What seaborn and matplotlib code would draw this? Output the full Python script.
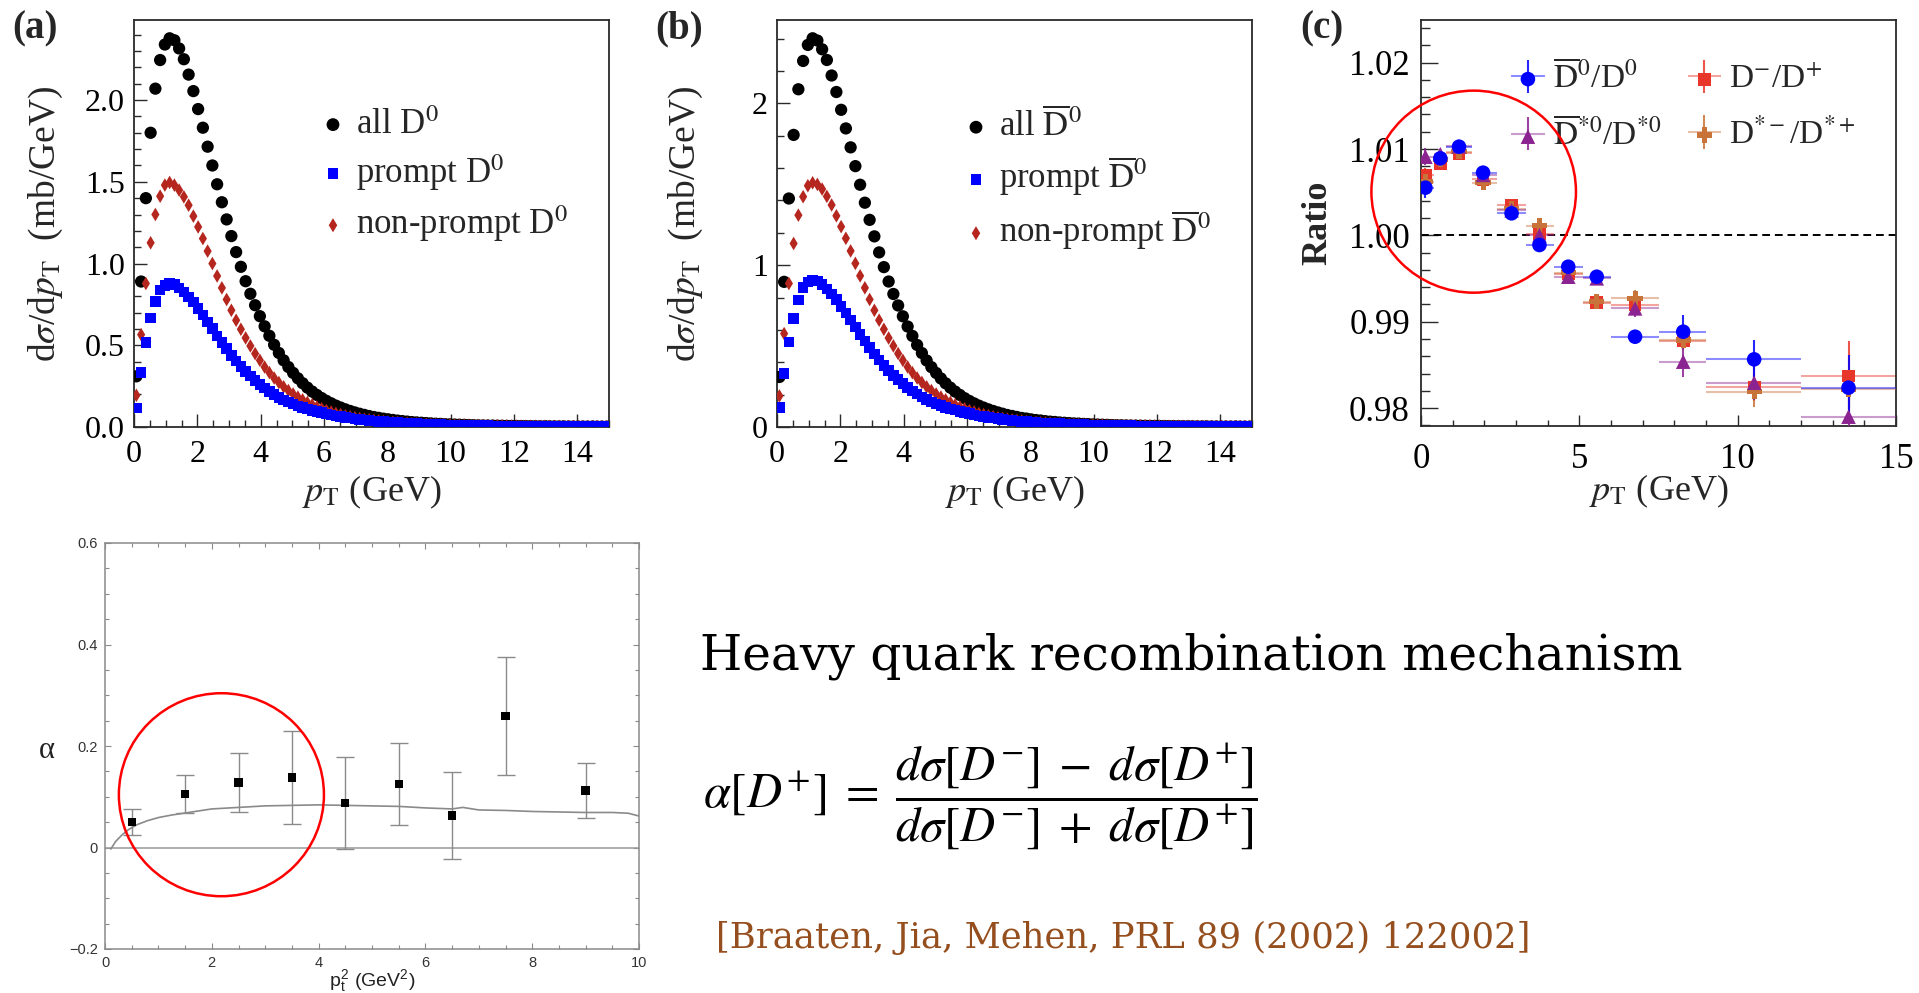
import numpy as np
import pandas as pd
import matplotlib
matplotlib.use('Agg')
import matplotlib.pyplot as plt
import seaborn as sns
from matplotlib.patches import Ellipse
from matplotlib.legend_handler import HandlerTuple
from matplotlib.ticker import MultipleLocator, FormatStrFormatter

sns.set_theme(style='white')
plt.rcParams['font.family'] = ['Liberation Serif', 'DejaVu Serif']
plt.rcParams['mathtext.fontset'] = 'stix'

# ---------------- data: panels (a) and (b), 100 bins over 0-15 GeV ----------------
pt_edges = np.linspace(0.0, 15.0, 101)
pt_centers = 0.5 * (pt_edges[:-1] + pt_edges[1:])

all_D0 = [0.310, 0.890, 1.400, 1.800, 2.070, 2.245, 2.340, 2.378, 2.366, 2.316,
          2.250, 2.156, 2.055, 1.945, 1.831, 1.715, 1.600, 1.485, 1.375, 1.270,
          1.168, 1.070, 0.980, 0.892, 0.815, 0.745, 0.678, 0.616, 0.558, 0.503,
          0.453, 0.408, 0.367, 0.331, 0.298, 0.268, 0.241, 0.217, 0.196, 0.177,
          0.160, 0.145, 0.131, 0.119, 0.108, 0.098, 0.089, 0.081, 0.074, 0.067,
          0.061, 0.056, 0.051, 0.047, 0.043, 0.039, 0.036, 0.033, 0.030, 0.028,
          0.026, 0.024, 0.022, 0.020, 0.019, 0.017, 0.016, 0.015, 0.014, 0.013,
          0.012, 0.011, 0.010, 0.0095, 0.009, 0.0085, 0.008, 0.0075, 0.007, 0.0065,
          0.006, 0.0057, 0.0054, 0.0051, 0.0048, 0.0045, 0.0042, 0.004, 0.0038, 0.0036,
          0.0034, 0.0032, 0.003, 0.0028, 0.0027, 0.0026, 0.0025, 0.0024, 0.0023, 0.0022]
prompt_D0 = [0.116, 0.333, 0.516, 0.667, 0.769, 0.837, 0.867, 0.878, 0.873, 0.851,
             0.827, 0.796, 0.765, 0.724, 0.684, 0.643, 0.602, 0.557, 0.516, 0.480,
             0.439, 0.404, 0.371, 0.341, 0.312, 0.286, 0.261, 0.239, 0.218, 0.198,
             0.180, 0.165, 0.152, 0.140, 0.129, 0.119, 0.110, 0.102, 0.094, 0.087,
             0.080, 0.074, 0.068, 0.063, 0.058, 0.054, 0.050, 0.046, 0.043, 0.040,
             0.037, 0.034, 0.032, 0.030, 0.028, 0.026, 0.024, 0.022, 0.021, 0.020,
             0.018, 0.017, 0.016, 0.015, 0.014, 0.013, 0.012, 0.011, 0.0105, 0.010,
             0.0095, 0.009, 0.0085, 0.008, 0.0075, 0.007, 0.0066, 0.0062, 0.0058, 0.0055,
             0.0052, 0.0049, 0.0046, 0.0044, 0.0042, 0.004, 0.0038, 0.0036, 0.0034, 0.0032,
             0.003, 0.0029, 0.0028, 0.0027, 0.0026, 0.0025, 0.0024, 0.0023, 0.0022, 0.0021]
nonprompt_D0 = [0.194, 0.565, 0.878, 1.127, 1.300, 1.412, 1.480, 1.496, 1.480, 1.449,
                1.408, 1.357, 1.290, 1.224, 1.153, 1.076, 1.000, 0.924, 0.851, 0.780,
                0.714, 0.653, 0.598, 0.545, 0.496, 0.449, 0.408, 0.367, 0.333, 0.300,
                0.272, 0.246, 0.223, 0.202, 0.183, 0.166, 0.150, 0.136, 0.123, 0.112,
                0.101, 0.092, 0.083, 0.076, 0.069, 0.063, 0.057, 0.052, 0.048, 0.044,
                0.040, 0.037, 0.034, 0.031, 0.029, 0.027, 0.025, 0.023, 0.021, 0.020,
                0.018, 0.017, 0.016, 0.015, 0.014, 0.013, 0.012, 0.011, 0.0105, 0.010,
                0.0095, 0.009, 0.0085, 0.008, 0.0076, 0.0072, 0.0068, 0.0064, 0.006, 0.0057,
                0.0054, 0.0051, 0.0048, 0.0046, 0.0044, 0.0042, 0.004, 0.0038, 0.0036, 0.0034,
                0.0032, 0.0031, 0.003, 0.0029, 0.0028, 0.0027, 0.0026, 0.0025, 0.0024, 0.0023]

all_D0bar = [0.309, 0.897, 1.412, 1.805, 2.087, 2.262, 2.361, 2.402, 2.388, 2.334,
             2.268, 2.172, 2.070, 1.960, 1.845, 1.728, 1.612, 1.497, 1.386, 1.280,
             1.178, 1.079, 0.988, 0.899, 0.822, 0.751, 0.684, 0.621, 0.563, 0.507,
             0.457, 0.411, 0.370, 0.334, 0.300, 0.270, 0.243, 0.219, 0.198, 0.178,
             0.161, 0.146, 0.132, 0.120, 0.109, 0.099, 0.090, 0.082, 0.074, 0.068,
             0.062, 0.056, 0.052, 0.047, 0.043, 0.040, 0.036, 0.033, 0.031, 0.028,
             0.026, 0.024, 0.022, 0.021, 0.019, 0.018, 0.016, 0.015, 0.014, 0.013,
             0.012, 0.011, 0.0105, 0.0097, 0.0091, 0.0085, 0.008, 0.0075, 0.007, 0.0066,
             0.0062, 0.0058, 0.0055, 0.0052, 0.0049, 0.0046, 0.0043, 0.0041, 0.0039, 0.0037,
             0.0035, 0.0033, 0.0031, 0.0029, 0.0028, 0.0027, 0.0026, 0.0025, 0.0024, 0.0023]
prompt_D0bar = [0.120, 0.330, 0.526, 0.670, 0.784, 0.862, 0.897, 0.907, 0.901, 0.880,
                0.853, 0.821, 0.788, 0.746, 0.704, 0.662, 0.619, 0.573, 0.531, 0.493,
                0.452, 0.415, 0.381, 0.350, 0.320, 0.293, 0.268, 0.245, 0.223, 0.203,
                0.185, 0.169, 0.155, 0.143, 0.132, 0.121, 0.112, 0.104, 0.096, 0.089,
                0.082, 0.075, 0.069, 0.064, 0.059, 0.055, 0.051, 0.047, 0.044, 0.041,
                0.038, 0.035, 0.033, 0.030, 0.028, 0.026, 0.024, 0.023, 0.021, 0.020,
                0.018, 0.017, 0.016, 0.015, 0.014, 0.013, 0.012, 0.011, 0.0105, 0.010,
                0.0095, 0.009, 0.0085, 0.008, 0.0075, 0.007, 0.0066, 0.0062, 0.0058, 0.0055,
                0.0052, 0.0049, 0.0046, 0.0044, 0.0042, 0.004, 0.0038, 0.0036, 0.0034, 0.0032,
                0.003, 0.0029, 0.0028, 0.0027, 0.0026, 0.0025, 0.0024, 0.0023, 0.0022, 0.0021]
nonprompt_D0bar = [0.192, 0.577, 0.887, 1.134, 1.309, 1.423, 1.491, 1.509, 1.499, 1.470,
                   1.425, 1.372, 1.305, 1.238, 1.166, 1.088, 1.011, 0.934, 0.860, 0.788,
                   0.721, 0.660, 0.604, 0.550, 0.501, 0.454, 0.412, 0.371, 0.336, 0.303,
                   0.275, 0.248, 0.225, 0.204, 0.185, 0.168, 0.152, 0.137, 0.124, 0.113,
                   0.102, 0.093, 0.084, 0.077, 0.070, 0.064, 0.058, 0.053, 0.048, 0.044,
                   0.040, 0.037, 0.034, 0.031, 0.029, 0.027, 0.025, 0.023, 0.021, 0.020,
                   0.018, 0.017, 0.016, 0.015, 0.014, 0.013, 0.012, 0.011, 0.0105, 0.010,
                   0.0095, 0.009, 0.0085, 0.008, 0.0076, 0.0072, 0.0068, 0.0064, 0.006, 0.0057,
                   0.0054, 0.0051, 0.0048, 0.0046, 0.0044, 0.0042, 0.004, 0.0038, 0.0036, 0.0034,
                   0.0032, 0.0031, 0.003, 0.0029, 0.0028, 0.0027, 0.0026, 0.0025, 0.0024, 0.0023]

# ---------------- data: panel (c) ratios ----------------
ratio_pt = [0.14, 0.61, 1.20, 1.96, 2.86, 3.74, 4.65, 5.55, 6.76, 8.28, 10.52, 13.50]
ratio_lo = [0.0, 0.4, 0.8, 1.6, 2.4, 3.3, 4.2, 5.1, 6.0, 7.5, 9.0, 12.0]
ratio_hi = [0.4, 0.8, 1.6, 2.4, 3.3, 4.2, 5.1, 6.0, 7.5, 9.0, 12.0, 15.0]
r_D0 = [1.00552, 1.00892, 1.01027, 1.00726, 1.00255, 0.99888, 0.99637, 0.99521, 0.98826, 0.98884, 0.98564, 0.98236]
e_D0 = [0.0012, 0.0006, 0.0006, 0.0006, 0.0006, 0.0006, 0.0007, 0.0007, 0.0005, 0.0019, 0.0022, 0.0038]
r_Dp = [1.00700, 1.00834, 1.00950, 1.00650, 1.00350, 1.00020, 0.99552, 0.99220, 0.99193, 0.98780, 0.98240, 0.98371]
e_Dp = [0.0008, 0.0006, 0.0006, 0.0006, 0.0006, 0.0006, 0.0007, 0.0007, 0.0008, 0.0010, 0.0016, 0.0040]
r_Ds0 = [1.00911, 1.00940, 1.01030, 1.00700, 1.00290, 1.00000, 0.99521, 0.99502, 0.99154, 0.98537, 0.98293, 0.97900]
e_Ds0 = [0.0010, 0.0006, 0.0006, 0.0006, 0.0006, 0.0006, 0.0007, 0.0008, 0.0010, 0.0018, 0.0020, 0.0030]
r_Dsp = [1.00620, 1.00880, 1.00970, 1.00610, 1.00310, 1.00110, 0.99568, 0.99232, 0.99270, 0.98788, 0.98189, 0.98216]
e_Dsp = [0.0008, 0.0006, 0.0006, 0.0006, 0.0006, 0.0006, 0.0007, 0.0008, 0.0010, 0.0012, 0.0018, 0.0022]

# ---------------- data: bottom panel (alpha vs pt^2) ----------------
alpha_x = [0.5, 1.5, 2.5, 3.5, 4.5, 5.5, 6.5, 7.5, 9.0]
alpha_y = [0.050, 0.105, 0.128, 0.138, 0.088, 0.125, 0.063, 0.259, 0.112]
alpha_err = [0.025, 0.038, 0.059, 0.091, 0.090, 0.080, 0.085, 0.117, 0.054]
theory_x = [0.11, 0.2, 0.32, 0.45, 0.6, 0.8, 1.0, 1.25, 1.5, 1.75, 2.0, 2.5, 3.0, 3.5, 4.0,
            4.5, 5.0, 5.5, 6.0, 6.5, 6.7, 7.0, 7.5, 8.0, 8.5, 9.0, 9.5, 9.8, 10.0]
theory_y = [-0.003, 0.012, 0.025, 0.036, 0.045, 0.053, 0.059, 0.064, 0.068, 0.072, 0.076, 0.079,
            0.082, 0.083, 0.084, 0.083, 0.082, 0.081, 0.078, 0.076, 0.079, 0.074, 0.073, 0.071,
            0.070, 0.069, 0.069, 0.0675, 0.062]

# ---------------- figure ----------------
W, H = 1919, 993
fig = plt.figure(figsize=(W / 100, H / 100), dpi=100)
fig.patch.set_facecolor('white')


def px_axes(l, t, r, b):
    return fig.add_axes([l / W, 1 - b / H, (r - l) / W, (b - t) / H])


def root_style(ax, xmaj, xmin, ymaj, ymin, xfmt, yfmt, maj_len=9.5, min_len=5, xpad=9, ypad=6.5,
               labelsize=23):
    ax.set_facecolor('white')
    for s in ax.spines.values():
        s.set_visible(True)
        s.set_color('#2a2a2a')
        s.set_linewidth(1.3)
    ax.xaxis.set_major_locator(MultipleLocator(xmaj))
    ax.xaxis.set_minor_locator(MultipleLocator(xmin))
    ax.yaxis.set_major_locator(MultipleLocator(ymaj))
    ax.yaxis.set_minor_locator(MultipleLocator(ymin))
    ax.xaxis.set_major_formatter(FormatStrFormatter(xfmt))
    ax.yaxis.set_major_formatter(FormatStrFormatter(yfmt))
    ax.tick_params(which='both', direction='in', bottom=True, left=True, top=False, right=False,
                   color='#2a2a2a', width=1.0, labelcolor='black')
    ax.tick_params(which='major', length=maj_len, labelsize=labelsize)
    ax.tick_params(which='minor', length=min_len)
    ax.tick_params(axis='x', which='major', pad=xpad)
    ax.tick_params(axis='y', which='major', pad=ypad)
    ax.grid(False)


def spectrum_panel(ax, allv, promptv, nonpromptv, labels, ylim, ymaj, ymin, yfmt, ylab_x):
    df = pd.DataFrame({'pt': pt_centers, 'all': allv, 'prompt': promptv, 'nonprompt': nonpromptv})
    sns.scatterplot(data=df, x='pt', y='all', ax=ax, marker='o', s=78, color='black',
                    edgecolor='none', linewidth=0, zorder=3)
    sns.scatterplot(data=df, x='pt', y='nonprompt', ax=ax, marker='d', s=48, color='#b5261e',
                    edgecolor='none', linewidth=0, zorder=4)
    sns.scatterplot(data=df, x='pt', y='prompt', ax=ax, marker='s', s=58, color='#0000ff',
                    edgecolor='none', linewidth=0, zorder=5)
    ax.set_xlim(0, 15)
    ax.set_ylim(*ylim)
    root_style(ax, 2, 0.5, ymaj, ymin, '%d', yfmt)
    ax.set_xlabel(r'$p_{\mathrm{T}}$ (GeV)', fontsize=26, va='top')
    ax.xaxis.set_label_coords(0.5, -0.115)
    ax.set_ylabel(r'd$\sigma$/d$p_{\mathrm{T}}$  (mb/GeV)', fontsize=27)
    ax.yaxis.set_label_coords(ylab_x, 0.5)
    h1 = ax.scatter([], [], marker='o', s=85, color='black', edgecolors='none')
    h2 = ax.scatter([], [], marker='s', s=62, color='#0000ff', edgecolors='none')
    h3 = ax.scatter([], [], marker='d', s=52, color='#b5261e', edgecolors='none')
    ax.legend([h1, h2, h3], labels, loc='upper left', bbox_to_anchor=(0.397, 0.782), frameon=False,
              fontsize=25, handlelength=0.6, handletextpad=0.35, labelspacing=0.3, borderpad=0,
              borderaxespad=0, scatterpoints=1)


# panel (a)
ax_a = px_axes(134, 20, 609, 427)
spectrum_panel(ax_a, all_D0, prompt_D0, nonprompt_D0,
               [r'all D$^{0}$', r'prompt D$^{0}$', r'non-prompt D$^{0}$'],
               (0, 2.49), 0.5, 0.1, '%.1f', -0.145)

# panel (b)
ax_b = px_axes(777, 20, 1252, 427)
spectrum_panel(ax_b, all_D0bar, prompt_D0bar, nonprompt_D0bar,
               [r'all $\overline{\mathrm{D}}^{0}$', r'prompt $\overline{\mathrm{D}}^{0}$',
                r'non-prompt $\overline{\mathrm{D}}^{0}$'],
               (0, 2.515), 1, 0.2, '%d', -0.152)

# panel (c)
ax_c = px_axes(1421, 20, 1896, 426)
series_c = [
    (r_Dp, e_Dp, '#e8372a', 's', 85, r'D$^{-}$/D$^{+}$'),
    (r_Dsp, e_Dsp, '#c8733a', 'P', 120, r'D$^{*-}$/D$^{*+}$'),
    (r_Ds0, e_Ds0, '#8b2391', '^', 110, r'$\overline{\mathrm{D}}^{*0}$/D$^{*0}$'),
    (r_D0, e_D0, '#0000ff', 'o', 110, r'$\overline{\mathrm{D}}^{0}$/D$^{0}$'),
]
xarr = np.array(ratio_pt)
xerr = [xarr - np.array(ratio_lo), np.array(ratio_hi) - xarr]
handles = {}
for k, (vals, errs, col, mk, sz, lab) in enumerate(series_c):
    cx = ax_c.errorbar(ratio_pt, vals, xerr=xerr, fmt='none', ecolor=col, elinewidth=1.5, alpha=0.45,
                       zorder=2 + k)
    cy = ax_c.errorbar(ratio_pt, vals, yerr=errs, fmt='none', ecolor=col, elinewidth=1.5, alpha=0.85,
                       zorder=2 + k)
    dfc = pd.DataFrame({'pt': ratio_pt, 'r': vals})
    sns.scatterplot(data=dfc, x='pt', y='r', ax=ax_c, marker=mk, s=sz, color=col, edgecolor='none',
                    linewidth=0, zorder=6 + k)
    hm = ax_c.scatter([], [], marker=mk, s=sz, color=col, edgecolors='none')
    handles[lab] = (cx, cy, hm)
ax_c.axhline(1.0, color='black', lw=1.4, ls=(0, (4, 2.5)), zorder=1)
ax_c.set_xlim(0, 15)
ax_c.set_ylim(0.97792, 1.02494)
root_style(ax_c, 5, 1, 0.01, 0.002, '%d', '%.2f', maj_len=12, min_len=6.5, xpad=12, ypad=8,
           labelsize=25)
ax_c.tick_params(axis='x', which='major', length=8)
ax_c.tick_params(axis='x', which='minor', length=4)
ax_c.set_xlabel(r'$p_{\mathrm{T}}$ (GeV)', fontsize=26, va='top')
ax_c.xaxis.set_label_coords(0.5, -0.115)
ax_c.set_ylabel('Ratio', fontsize=26, fontweight='bold')
ax_c.yaxis.set_label_coords(-0.183, 0.5)
order = [r'$\overline{\mathrm{D}}^{0}$/D$^{0}$', r'$\overline{\mathrm{D}}^{*0}$/D$^{*0}$',
         r'D$^{-}$/D$^{+}$', r'D$^{*-}$/D$^{*+}$']
ax_c.legend([handles[o] for o in order], order, ncol=2, loc='upper left', bbox_to_anchor=(0.19, 0.90),
            frameon=False, fontsize=24, handlelength=1.0, handletextpad=0.25, columnspacing=0.8,
            labelspacing=0.7, borderpad=0, borderaxespad=0,
            handler_map={tuple: HandlerTuple(ndivide=1, pad=0)})
ax_c.add_patch(Ellipse((1.664, 1.00506), width=6.46, height=0.0234, fill=False, edgecolor='#ff0000',
                       lw=1.8, clip_on=False, zorder=20))

# panel labels
for lab, x in [('(a)', 12), ('(b)', 655), ('(c)', 1300)]:
    fig.text(x / W, 1 - 10 / H, lab, fontsize=28, fontweight='bold', ha='left', va='top')

# bottom panel
ax_d = px_axes(105, 543, 639, 949)
ax_d.set_facecolor('white')
ax_d.axhline(0.0, color='#999999', lw=1.1, zorder=1)
sns.lineplot(x=theory_x, y=theory_y, ax=ax_d, color='#8a8a8a', lw=1.2, zorder=2)
ax_d.errorbar(alpha_x, alpha_y, yerr=alpha_err, fmt='none', ecolor='#8a8a8a', elinewidth=1.0,
              capsize=6.5, capthick=1.0, zorder=3)
sns.scatterplot(x=alpha_x, y=alpha_y, ax=ax_d, marker='s', s=36, color='black', edgecolor='none',
                linewidth=0, zorder=4)
ax_d.set_xlim(0, 10)
ax_d.set_ylim(-0.2, 0.6)
for s in ax_d.spines.values():
    s.set_visible(True)
    s.set_color('#8a8a8a')
    s.set_linewidth(1.1)
ax_d.xaxis.set_major_locator(MultipleLocator(2))
ax_d.xaxis.set_minor_locator(MultipleLocator(0.5))
ax_d.yaxis.set_major_locator(MultipleLocator(0.2))
ax_d.yaxis.set_minor_locator(MultipleLocator(0.05))
ax_d.xaxis.set_major_formatter(FormatStrFormatter('%g'))
ax_d.yaxis.set_major_formatter(lambda v, p: ('\u22120.2' if v < -0.01 else ('0' if abs(v) < 1e-9 else '%g' % v)))
ax_d.tick_params(which='both', direction='in', top=True, right=True, bottom=True, left=True,
                 color='#8a8a8a', width=0.8, labelcolor='#333333', labelsize=10.5)
ax_d.tick_params(which='major', length=4.5, pad=5)
ax_d.tick_params(which='minor', length=3)
for t in ax_d.get_xticklabels() + ax_d.get_yticklabels():
    t.set_fontfamily(['Liberation Sans', 'DejaVu Sans'])
ax_d.grid(False)
ax_d.set_xlabel(r'p$_{\mathregular{t}}^{\mathregular{2}}$ (GeV$^{\mathregular{2}}$)', fontsize=14,
                family=['Liberation Sans', 'DejaVu Sans'], va='top', color='#222222')
ax_d.xaxis.set_label_coords(0.5, -0.045)
ax_d.set_ylabel('\u03b1', fontsize=22, rotation=0, ha='right', va='center', color='#222222')
ax_d.yaxis.set_label_coords(-0.095, 0.49)
ax_d.add_patch(Ellipse((2.18, 0.104), width=3.84, height=0.40, fill=False, edgecolor='#ff0000',
                       lw=1.8, clip_on=False, zorder=20))

# right-side text
fig.text(700 / W, 1 - 670 / H, 'Heavy quark recombination mechanism', fontsize=35,
         family=['DejaVu Serif'], ha='left', va='baseline', color='black')
fig.text(703 / W, 1 - 797 / H,
         r'$\alpha[D^{+}] \;=\; \dfrac{d\sigma[D^{-}] \;-\; d\sigma[D^{+}]}{d\sigma[D^{-}] \;+\; d\sigma[D^{+}]}$',
         fontsize=35, ha='left', va='center', color='black')
fig.text(716 / W, 1 - 938 / H, '[Braaten, Jia, Mehen, PRL 89 (2002) 122002]', fontsize=25.5,
         family=['DejaVu Serif'], ha='left', va='center', color='#954f1e')

fig.savefig('out.png', dpi=100, facecolor='white')
